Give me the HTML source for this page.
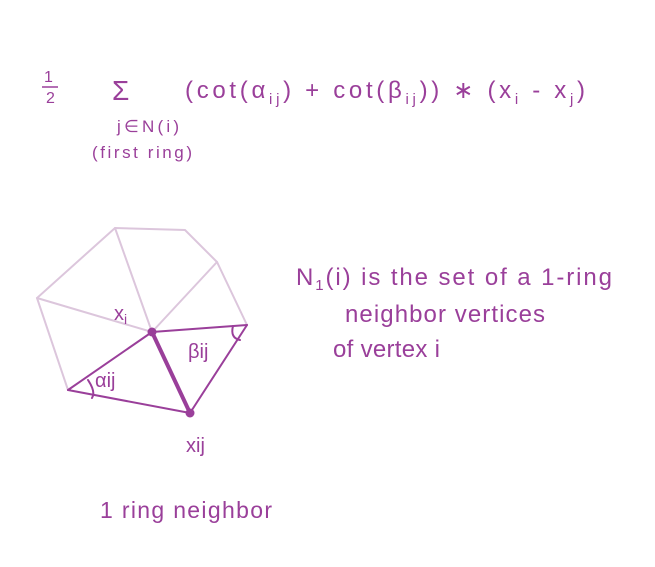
<!DOCTYPE html>
<html><head><meta charset="utf-8"><style>
html,body{margin:0;padding:0;background:#fff;}
svg{display:block;}
text{font-family:"Liberation Sans",sans-serif;fill:#9a3f9a;}
</style></head><body>
<svg width="655" height="567" viewBox="0 0 655 567">
  <g>
    <text x="44" y="82" font-size="16">1</text>
    <line x1="42" y1="87" x2="58" y2="87" stroke="#9a3f9a" stroke-width="1.5"/>
    <text x="46" y="103" font-size="16">2</text>
    <text x="112" y="100" font-size="28">Σ</text>
    <text x="185" y="98" font-size="24" textLength="400" lengthAdjust="spacing">(cot(α<tspan font-size="15" dy="6">ij</tspan><tspan dy="-6">) + cot(β</tspan><tspan font-size="15" dy="6">ij</tspan><tspan dy="-6">)) ∗ (x</tspan><tspan font-size="15" dy="6">i</tspan><tspan dy="-6"> - x</tspan><tspan font-size="15" dy="6">j</tspan><tspan dy="-6">)</tspan></text>
    <text x="117" y="132" font-size="17" textLength="62" lengthAdjust="spacing">j∈N(i)</text>
    <text x="92" y="158" font-size="17" textLength="100" lengthAdjust="spacing">(first ring)</text>
  </g>
  <g fill="none" stroke-linecap="round">
    <g stroke="#dcc6dc" stroke-width="2">
      <polyline points="68,390 37,298 115,228 185,230 217,262 247,325"/>
      <line x1="152" y1="332" x2="37" y2="298"/>
      <line x1="152" y1="332" x2="115" y2="228"/>
      <line x1="152" y1="332" x2="217" y2="262"/>
    </g>
    <g stroke="#9a3f9a" stroke-width="2">
      <line x1="152" y1="332" x2="247" y2="325"/>
      <line x1="152" y1="332" x2="68" y2="390"/>
      <line x1="247" y1="325" x2="190" y2="413"/>
      <line x1="68" y1="390" x2="190" y2="413"/>
      <line x1="152" y1="332" x2="190" y2="413" stroke-width="4"/>
      <path d="M88,380 Q96,392 92,398" />
      <path d="M233,326 Q230,338 240,340" />
    </g>
    <circle cx="152" cy="332" r="4.5" fill="#9a3f9a"/>
    <circle cx="190" cy="413" r="4.5" fill="#9a3f9a"/>
  </g>
  <text x="114" y="320" font-size="20">x<tspan font-size="14" dy="4">i</tspan></text>
  <text x="188" y="358" font-size="20">βij</text>
  <text x="95" y="387" font-size="20">αij</text>
  <text x="186" y="452" font-size="20">xij</text>
  <text x="100" y="518" font-size="23" textLength="172" lengthAdjust="spacing">1 ring neighbor</text>
  <g>
    <text x="296" y="285" font-size="24" textLength="316" lengthAdjust="spacing">N<tspan font-size="15" dy="5">1</tspan><tspan dy="-5">(i) is the set of a 1-ring</tspan></text>
    <text x="345" y="322" font-size="24" textLength="200" lengthAdjust="spacing">neighbor vertices</text>
    <text x="333" y="357" font-size="24" textLength="107" lengthAdjust="spacing">of vertex i</text>
  </g>
</svg>
</body></html>
